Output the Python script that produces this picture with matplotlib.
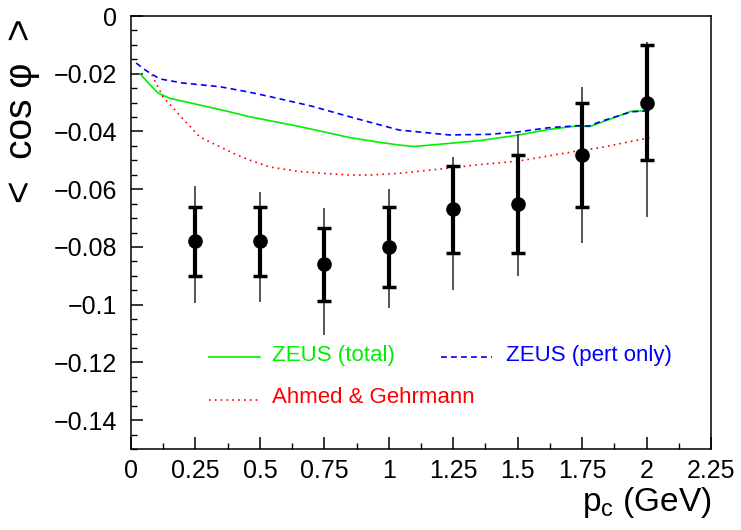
import numpy as np
import matplotlib
matplotlib.use("Agg")
import matplotlib.pyplot as plt
from matplotlib.ticker import MultipleLocator, FuncFormatter

plt.rcParams['font.family'] = ['Liberation Sans', 'DejaVu Sans']

# measured points
pc = [0.25, 0.5, 0.75, 1.0, 1.25, 1.5, 1.75, 2.0]
cosphi = [-0.078, -0.078, -0.086, -0.080, -0.067, -0.065, -0.048, -0.030]
# inner (stat) error range
stat_hi = [-0.066, -0.066, -0.0734, -0.066, -0.052, -0.048, -0.030, -0.010]
stat_lo = [-0.090, -0.090, -0.0987, -0.094, -0.082, -0.082, -0.066, -0.050]
# outer (total) error range
tot_hi = [-0.059, -0.061, -0.0665, -0.060, -0.049, -0.041, -0.0247, -0.0089]
tot_lo = [-0.0995, -0.099, -0.1105, -0.101, -0.095, -0.090, -0.0788, -0.0697]

# ZEUS (total)
zt_x = [0.035, 0.07, 0.105, 0.15, 0.25, 0.35, 0.46, 0.654, 0.848, 0.96, 1.04,
        1.1, 1.2, 1.35, 1.506, 1.62, 1.73, 1.78, 1.85, 1.94, 2.01]
zt_y = [-0.0200, -0.0235, -0.0267, -0.0285, -0.0305, -0.0325, -0.0349, -0.0383,
        -0.0421, -0.0437, -0.0447, -0.0452, -0.0444, -0.0432, -0.0412, -0.0393,
        -0.0381, -0.0383, -0.0360, -0.0330, -0.0328]

# ZEUS (pert only)
zp_x = [0.02, 0.06, 0.112, 0.2, 0.345, 0.46, 0.538, 0.7, 0.848, 1.04, 1.235,
        1.39, 1.506, 1.62, 1.73, 1.777, 1.82, 1.94, 2.01]
zp_y = [-0.0163, -0.0190, -0.0218, -0.0232, -0.0245, -0.0264, -0.0279, -0.0312,
        -0.0349, -0.0395, -0.0412, -0.0410, -0.0401, -0.0387, -0.0380, -0.0381,
        -0.0366, -0.0332, -0.0328]

# Ahmed & Gehrmann
ag_x = [0.081, 0.124, 0.2, 0.267, 0.395, 0.46, 0.538, 0.654, 0.732, 0.848,
        0.926, 1.04, 1.2, 1.35, 1.506, 1.73, 1.82, 2.02]
ag_y = [-0.0204, -0.0280, -0.0355, -0.0419, -0.0475, -0.0499, -0.0523, -0.0539,
        -0.0544, -0.0551, -0.0551, -0.0545, -0.0530, -0.0515, -0.0502, -0.0468,
        -0.0456, -0.0420]

fig = plt.figure(figsize=(7.41, 5.30), dpi=100)
ax = fig.add_axes([0.1768, 0.1528, 0.7827, 0.817])

ax.plot(zt_x, zt_y, color='#00ee00', lw=1.2)
ax.plot(zp_x, zp_y, color='#0000ff', lw=1.2, ls=(0, (3.5, 2.5)))
ax.plot(ag_x, ag_y, color='#ff0000', lw=1.2, ls=(0, (1, 2.5)))

pc_a = np.array(pc)
y = np.array(cosphi)
ax.vlines(pc_a, tot_lo, tot_hi, color='#555555', lw=1.4, zorder=4)
ax.errorbar(pc_a, y, yerr=[y - np.array(stat_lo), np.array(stat_hi) - y],
            fmt='o', color='black', ms=9.5, elinewidth=3, capsize=5,
            capthick=2.5, zorder=5)

ax.set_xlim(0, 2.25)
ax.set_ylim(-0.15, 0)
ax.xaxis.set_major_locator(MultipleLocator(0.25))
ax.xaxis.set_minor_locator(MultipleLocator(0.125))
ax.yaxis.set_major_locator(MultipleLocator(0.02))
ax.yaxis.set_minor_locator(MultipleLocator(0.005))
fmt = FuncFormatter(lambda v, p: f'{v:g}'.replace('-', '\u2212') if abs(v) > 1e-9 else '0')
ax.xaxis.set_major_formatter(fmt)
ax.yaxis.set_major_formatter(fmt)
ax.tick_params(which='both', direction='in', top=False, right=False, labelsize=18)
ax.tick_params(which='major', length=8.5, width=1.1)
ax.tick_params(which='minor', length=4.3, width=1.0)
ax.tick_params(axis='x', pad=7)
ax.tick_params(axis='y', pad=10)
for s in ax.spines.values():
    s.set_linewidth(1.1)

# legend drawn by hand
tr = ax.transAxes
ax.plot([0.134, 0.222], [0.212, 0.212], color='#00ee00', lw=1.2, transform=tr)
ax.text(0.243, 0.216, 'ZEUS (total)', color='#00ee00', fontsize=16,
        va='center', transform=tr)
ax.plot([0.534, 0.622], [0.212, 0.212], color='#0000ff', lw=1.2,
        ls=(0, (3.5, 2.5)), transform=tr)
ax.text(0.647, 0.216, 'ZEUS (pert only)', color='#0000ff', fontsize=16,
        va='center', transform=tr)
ax.plot([0.134, 0.222], [0.113, 0.113], color='#ff0000', lw=1.2,
        ls=(0, (1, 2.5)), transform=tr)
ax.text(0.243, 0.118, 'Ahmed & Gehrmann', color='#ff0000', fontsize=16,
        va='center', transform=tr)

fig.text(0.030, 0.966, '<  cos \u03c6  >', rotation=90, fontsize=28,
         ha='center', va='top')
fig.text(0.961, 0.035, 'p$_\\mathregular{c}$ (GeV)', fontsize=24,
         ha='right', va='baseline')

fig.savefig('out.png', dpi=100)
